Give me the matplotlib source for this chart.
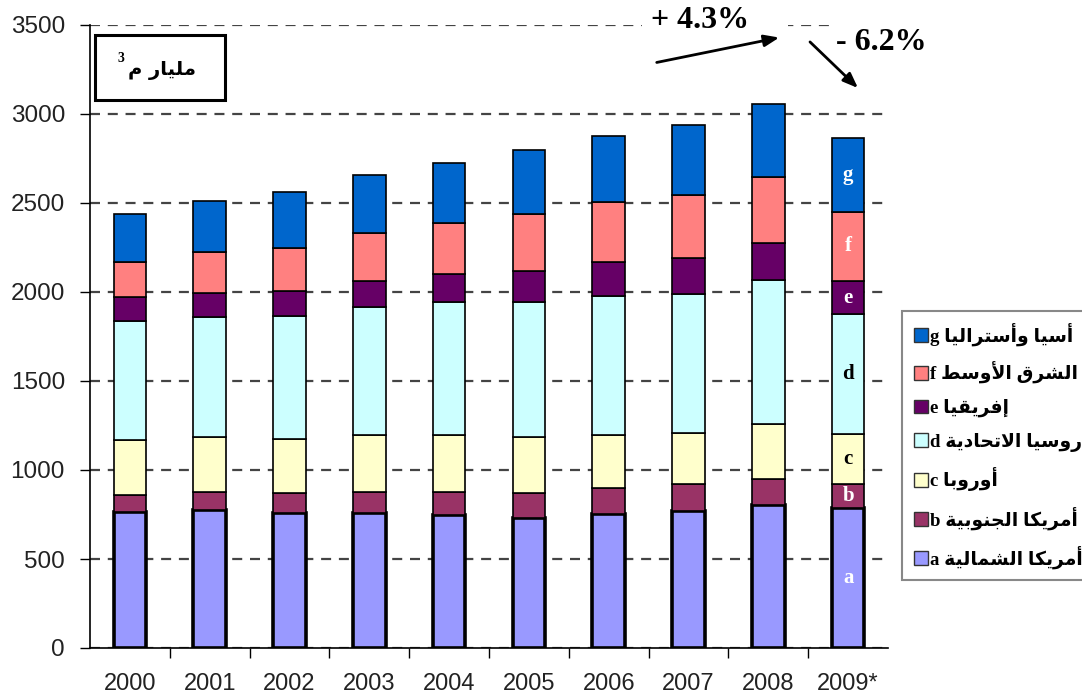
import matplotlib
matplotlib.use("Agg")
import matplotlib.pyplot as plt
from matplotlib.patches import Rectangle, Patch
import numpy as np

# ---------------- data ----------------
years = ["2000", "2001", "2002", "2003", "2004", "2005", "2006", "2007", "2008", "2009*"]
north_america = [766, 775, 760, 757, 747, 732, 751, 771, 801, 784]   # a
south_america = [94, 100, 109, 118, 128, 137, 150, 150, 150, 136]    # b
europe        = [308, 308, 307, 320, 320, 318, 294, 286, 310, 283]   # c
russia        = [671, 675, 691, 723, 751, 759, 781, 779, 806, 673]   # d
africa        = [135, 135, 140, 144, 155, 172, 193, 203, 206, 186]   # e
middle_east   = [194, 234, 242, 268, 288, 319, 336, 355, 371, 389]   # f
asia          = [270, 283, 311, 327, 338, 361, 371, 392, 411, 416]   # g

series_letters = ["a", "b", "c", "d", "e", "f", "g"]
series_names = ["أمريكا الشمالية", "أمريكا الجنوبية", "أوروبا", "روسيا الاتحادية",
                "إفريقيا", "الشرق الأوسط", "أسيا وأستراليا"]
series_colors = ["#9999FF", "#993366", "#FFFFCC", "#CCFFFF", "#660066", "#FF8080", "#0066CC"]
label_colors = ["white", "white", "black", "black", "white", "white", "white"]
unit_label = "مليار م"
unit_power = "3"
growth_up = "+ 4.3%"
growth_down = "- 6.2%"

# ---------------- simple Arabic shaping (presentation forms, visual order) ----------------
FORMS = {
    '\u0627': ('\uFE8D', '\uFE8E', None, None),
    '\u0623': ('\uFE83', '\uFE84', None, None),
    '\u0625': ('\uFE87', '\uFE88', None, None),
    '\u0628': ('\uFE8F', '\uFE90', '\uFE91', '\uFE92'),
    '\u0629': ('\uFE93', '\uFE94', None, None),
    '\u062A': ('\uFE95', '\uFE96', '\uFE97', '\uFE98'),
    '\u062C': ('\uFE9D', '\uFE9E', '\uFE9F', '\uFEA0'),
    '\u062D': ('\uFEA1', '\uFEA2', '\uFEA3', '\uFEA4'),
    '\u062F': ('\uFEA9', '\uFEAA', None, None),
    '\u0631': ('\uFEAD', '\uFEAE', None, None),
    '\u0633': ('\uFEB1', '\uFEB2', '\uFEB3', '\uFEB4'),
    '\u0634': ('\uFEB5', '\uFEB6', '\uFEB7', '\uFEB8'),
    '\u0637': ('\uFEC1', '\uFEC2', '\uFEC3', '\uFEC4'),
    '\u0641': ('\uFED1', '\uFED2', '\uFED3', '\uFED4'),
    '\u0642': ('\uFED5', '\uFED6', '\uFED7', '\uFED8'),
    '\u0643': ('\uFED9', '\uFEDA', '\uFEDB', '\uFEDC'),
    '\u0644': ('\uFEDD', '\uFEDE', '\uFEDF', '\uFEE0'),
    '\u0645': ('\uFEE1', '\uFEE2', '\uFEE3', '\uFEE4'),
    '\u0646': ('\uFEE5', '\uFEE6', '\uFEE7', '\uFEE8'),
    '\u0648': ('\uFEED', '\uFEEE', None, None),
    '\u064A': ('\uFEF1', '\uFEF2', '\uFEF3', '\uFEF4'),
}
LAMALEF = {'\u0627': ('\uFEFB', '\uFEFC'), '\u0623': ('\uFEF7', '\uFEF8'),
           '\u0625': ('\uFEF9', '\uFEFA')}


def shape(s):
    tokens = []
    i = 0
    while i < len(s):
        c = s[i]
        if c == '\u0644' and i + 1 < len(s) and s[i + 1] in LAMALEF:
            tokens.append(('LA', s[i + 1]))
            i += 2
        else:
            tokens.append(('C', c))
            i += 1

    def dual(t):
        if t[0] == 'LA':
            return False
        f = FORMS.get(t[1])
        return f is not None and f[2] is not None

    def joinable(t):
        return t[0] == 'LA' or t[1] in FORMS

    out = []
    for k, t in enumerate(tokens):
        prev = tokens[k - 1] if k > 0 else None
        nxt = tokens[k + 1] if k + 1 < len(tokens) else None
        jp = prev is not None and dual(prev) and joinable(t)
        jn = nxt is not None and dual(t) and joinable(nxt)
        if t[0] == 'LA':
            out.append(LAMALEF[t[1]][1 if jp else 0])
        elif t[1] in FORMS:
            iso, fin, ini, med = FORMS[t[1]]
            if jp and jn:
                out.append(med)
            elif jp:
                out.append(fin)
            elif jn:
                out.append(ini)
            else:
                out.append(iso)
        else:
            out.append(t[1])
    return ''.join(reversed(out))


# ---------------- figure ----------------
W, H = 1082, 697
fig = plt.figure(figsize=(W / 100, H / 100), dpi=100)
ax = fig.add_axes([90 / W, 1 - 648 / H, 798 / W, 623 / H])

series = [north_america, south_america, europe, russia, africa, middle_east, asia]
x = np.arange(len(years))
bottom = np.zeros(len(years))
for k, vals in enumerate(series):
    v = np.array(vals, dtype=float)
    ax.bar(x, v, bottom=bottom, width=0.41, color=series_colors[k],
           edgecolor="black", linewidth=2.6 if k == 0 else 1.2, zorder=3)
    # letters inside the last bar
    ax.text(x[-1], bottom[-1] + v[-1] / 2, series_letters[k], ha="center", va="center",
            fontsize=15, fontweight="bold", family="Liberation Serif",
            color=label_colors[k], zorder=4)
    bottom += v

ax.set_ylim(0, 3500)
ax.set_xlim(-0.5, len(years) - 0.5)
ax.set_yticks(np.arange(0, 3501, 500))
ax.yaxis.grid(True, linestyle=(0, (4.5, 3.5)), color="#444444", linewidth=1.6)
ax.set_axisbelow(True)

ax.set_xticks(x)
ax.set_xticklabels(years)
ax.set_xticks(x[:-1] + 0.5, minor=True)
ax.tick_params(axis="x", which="major", length=0, pad=18, labelsize=17, labelcolor="#222222")
ax.tick_params(axis="x", which="minor", length=7, width=1, direction="out")
ax.tick_params(axis="y", length=7, width=1, direction="out", pad=11, labelsize=17.5,
               labelcolor="#222222")
for lab in ax.get_xticklabels() + ax.get_yticklabels():
    lab.set_family("Liberation Sans")

for s in ["top", "right"]:
    ax.spines[s].set_visible(False)
ax.spines["left"].set_linewidth(1.2)
ax.spines["bottom"].set_linewidth(1.2)

# unit box
ax.add_patch(Rectangle((95 / W, 1 - 100 / H), 130 / W, 65 / H, transform=fig.transFigure,
                       facecolor="white", edgecolor="black", linewidth=2.2,
                       clip_on=False, zorder=5))
fig.text(196 / W, 1 - 70 / H, shape(unit_label), ha="right", va="center",
         fontsize=14, fontweight="bold", family=["DejaVu Sans"], zorder=6)
fig.text(124 / W, 1 - 58 / H, unit_power, ha="right", va="center",
         fontsize=10, fontweight="bold", family="Liberation Serif", zorder=6)

# white masks behind growth annotations
ax.add_patch(Rectangle((642 / W, 1 - 36 / H), 146 / W, 36 / H, transform=fig.transFigure,
                       facecolor="white", edgecolor="none", clip_on=False, zorder=5))
ax.add_patch(Rectangle((833 / W, 1 - 62 / H), 100 / W, 45 / H, transform=fig.transFigure,
                       facecolor="white", edgecolor="none", clip_on=False, zorder=5))

fig.text(700 / W, 1 - 20 / H, growth_up, ha="center", va="center", fontsize=23,
         fontweight="bold", family="Liberation Serif", zorder=6)
fig.text(881 / W, 1 - 43 / H, growth_down, ha="center", va="center", fontsize=23,
         fontweight="bold", family="Liberation Serif", zorder=6)

ax.annotate("", xy=(782 / W, 1 - 37 / H), xytext=(654 / W, 1 - 63 / H),
            xycoords="figure fraction", textcoords="figure fraction",
            arrowprops=dict(arrowstyle="-|>,head_length=0.9,head_width=0.35",
                            color="black", lw=2), zorder=7, annotation_clip=False)
ax.annotate("", xy=(860 / W, 1 - 90 / H), xytext=(808 / W, 1 - 40 / H),
            xycoords="figure fraction", textcoords="figure fraction",
            arrowprops=dict(arrowstyle="-|>,head_length=0.9,head_width=0.35",
                            color="black", lw=2), zorder=7, annotation_clip=False)

# legend
handles = [Patch(facecolor=series_colors[k], edgecolor="#333333", linewidth=1)
           for k in range(len(series))][::-1]
labels = [series_letters[k] + " " + shape(series_names[k]) for k in range(len(series))][::-1]
leg = fig.legend(handles, labels, loc="upper left", bbox_to_anchor=(893 / W, 1 - 302 / H),
                 bbox_transform=fig.transFigure, frameon=True, fancybox=False,
                 edgecolor="#888888", framealpha=1, borderpad=0.6,
                 handlelength=0.75, handleheight=0.75, handletextpad=0.15,
                 labelspacing=0.82,
                 prop=dict(family=["Liberation Serif", "DejaVu Sans"], weight="bold", size=13.5))
leg.get_frame().set_linewidth(1.5)

fig.savefig("out.png", dpi=100)
